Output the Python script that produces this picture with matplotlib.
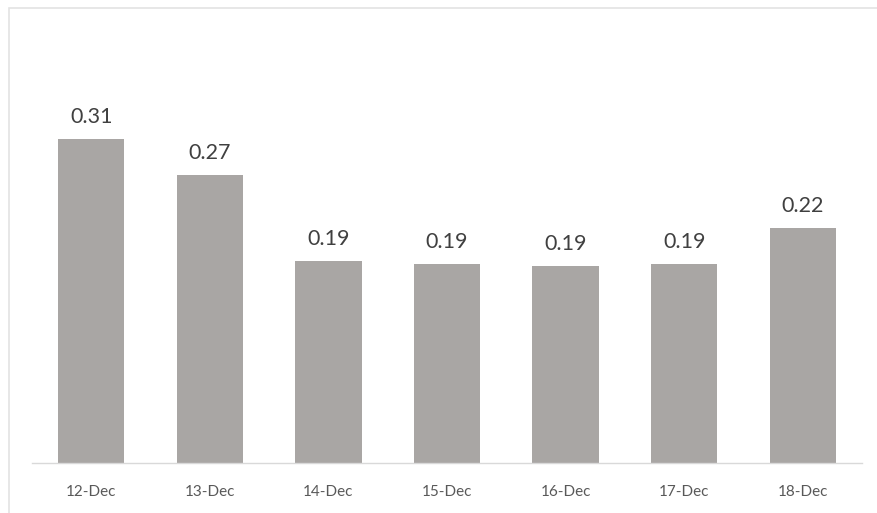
import matplotlib.pyplot as plt
from matplotlib.patches import Rectangle

days = ["12-Dec", "13-Dec", "14-Dec", "15-Dec", "16-Dec", "17-Dec", "18-Dec"]
values = [0.306, 0.272, 0.191, 0.188, 0.186, 0.188, 0.222]

W, H = 877, 513
fig = plt.figure(figsize=(W / 100, H / 100), dpi=100)
plt.rcParams["font.family"] = ["Lato", "DejaVu Sans"]

# plot area in pixels: baseline at y=463, x from 32 to 862
ax = fig.add_axes([32 / W, (H - 463) / H, 830 / W, (463 - 92) / H])

ax.bar(range(len(days)), values, width=0.56, color="#a9a6a4")
for i, v in enumerate(values):
    ax.text(i, v + 0.011, f"{v:.2f}", ha="center", va="bottom",
            fontsize=15.5, color="#404040")

ax.set_xlim(-0.5, len(days) - 0.5)
ax.set_ylim(0, 0.35)
ax.set_xticks(range(len(days)))
ax.set_xticklabels(days, fontsize=11, color="#595959")
ax.tick_params(axis="x", length=0, pad=16)
ax.set_yticks([])
for s in ["top", "right", "left"]:
    ax.spines[s].set_visible(False)
ax.spines["bottom"].set_color("#d9d9d9")
ax.spines["bottom"].set_linewidth(1)

# light chart border (top and left visible)
fig.patches.append(Rectangle((9 / W, -0.1), 1.2, (H - 8) / H + 0.1,
                             transform=fig.transFigure, fill=False,
                             edgecolor="#e3e3e3", linewidth=1.2))

fig.savefig("out.png", dpi=100)
